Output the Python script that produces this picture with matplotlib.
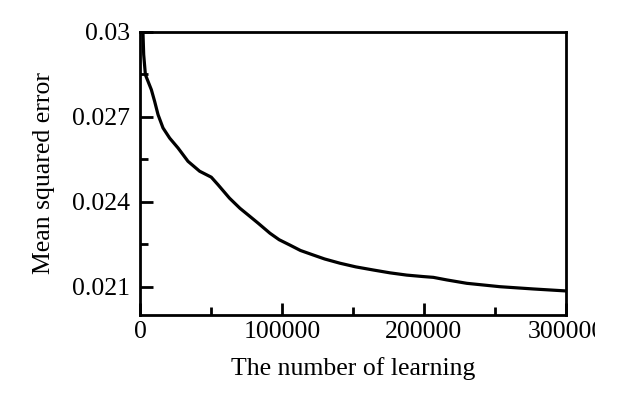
import matplotlib
matplotlib.use("Agg")
import matplotlib.pyplot as plt
from matplotlib.ticker import MultipleLocator, FixedLocator
from matplotlib.transforms import Bbox

# Curve
learning = [1200, 2100, 2600, 3800, 8000, 10300, 12700, 16200, 20900,
            26800, 33800, 42000, 50200, 55000, 63000, 70400, 77000,
            83300, 91500, 98000, 105600, 113000, 122000, 130000, 140800,
            152000, 164300, 176000, 187800, 199000, 206600, 216000, 230100,
            253500, 277000, 300000]
mse = [0.03010, 0.02996, 0.02920, 0.02849, 0.02796, 0.02755, 0.02708,
       0.02661, 0.02625, 0.02590, 0.02543, 0.02508, 0.02487, 0.02460,
       0.02413, 0.02377, 0.02350, 0.02324, 0.02289, 0.02266, 0.02247,
       0.02228, 0.02212, 0.02198, 0.02183, 0.02170, 0.02159, 0.02149,
       0.02141, 0.02136, 0.02133, 0.02124, 0.02112, 0.02100, 0.02092,
       0.02085]

x_ticks = [0, 100000, 200000, 300000]
x_labels = ['0', '100000', '200000', '300000']
y_ticks = [0.021, 0.024, 0.027, 0.030]
y_labels = ['0.021', '0.024', '0.027', '0.03']

plt.rcParams['font.family'] = 'Liberation Serif'

fig = plt.figure(figsize=(6.24, 4.0), dpi=100)
ax = fig.add_axes([140 / 624, 1 - 315 / 400, 426 / 624, 283 / 400])

ax.plot(learning, mse, color='black', lw=2.3, solid_joinstyle='round')

ax.set_xlim(0, 300000)
ax.set_ylim(0.020, 0.030)

ax.set_xticks(x_ticks)
ax.set_xticklabels(x_labels)
ax.set_yticks(y_ticks)
ax.set_yticklabels(y_labels)
ax.xaxis.set_minor_locator(MultipleLocator(50000))
ax.yaxis.set_minor_locator(FixedLocator([0.0225, 0.0255, 0.0285]))

ax.tick_params(which='both', direction='in', top=False, right=False,
               width=2.0, labelsize=18.5)
ax.tick_params(which='major', length=9)
ax.tick_params(which='minor', length=5.5)
ax.tick_params(axis='y', pad=7)
ax.tick_params(axis='x', pad=4)

for s in ax.spines.values():
    s.set_linewidth(2.0)

ax.set_xlabel('The number of learning', fontsize=18.5)
ax.set_ylabel('Mean squared error', fontsize=18.5)
ax.xaxis.set_label_coords(0.5, -0.15)
ax.yaxis.set_label_coords(-0.2, 0.5)

# the reference image is cut off just right of the last tick label
clip = Bbox.from_extents(0, 0, 595, 400)
for lbl in ax.get_xticklabels():
    lbl.set_clip_box(clip)
    lbl.set_clip_on(True)

fig.savefig('out.png', dpi=100)
